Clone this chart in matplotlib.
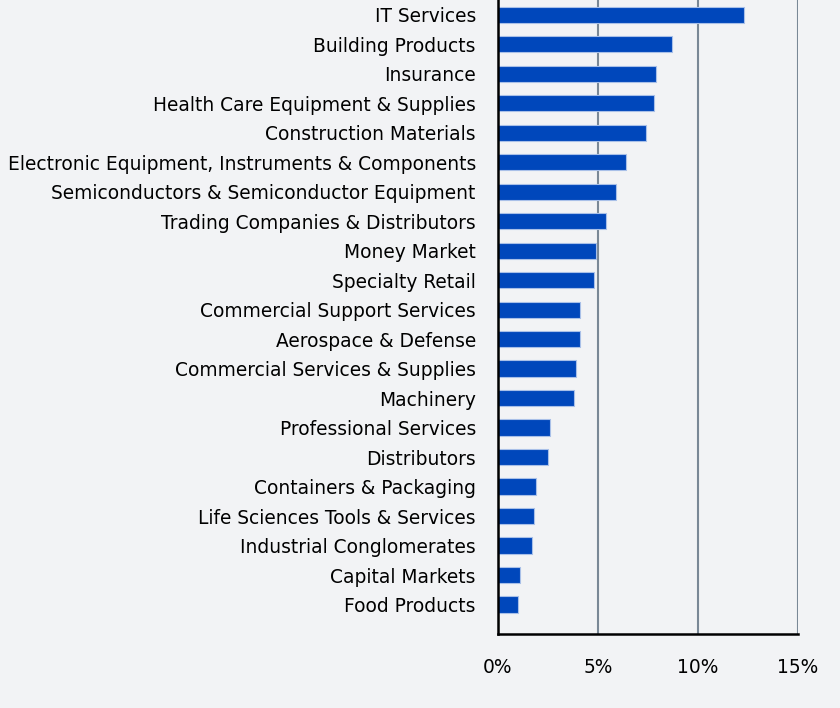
import numpy as np
import matplotlib.pyplot as plt

plt.rcParams['font.family'] = ['DejaVu Sans']

# industry weights (%)
industries = ["IT Services", "Building Products", "Insurance",
              "Health Care Equipment & Supplies", "Construction Materials",
              "Electronic Equipment, Instruments & Components",
              "Semiconductors & Semiconductor Equipment",
              "Trading Companies & Distributors", "Money Market",
              "Specialty Retail", "Commercial Support Services",
              "Aerospace & Defense", "Commercial Services & Supplies",
              "Machinery", "Professional Services", "Distributors",
              "Containers & Packaging", "Life Sciences Tools & Services",
              "Industrial Conglomerates", "Capital Markets", "Food Products"]
weights = [12.3, 8.7, 7.9, 7.8, 7.4, 6.4, 5.9, 5.4, 4.9, 4.8, 4.1, 4.1,
           3.9, 3.8, 2.6, 2.5, 1.9, 1.8, 1.7, 1.1, 1.0]
xticks = [0, 5, 10, 15]
xticklabels = ["0%", "5%", "10%", "15%"]

bg = "#F2F3F5"
fig = plt.figure(figsize=(8.4, 7.08), dpi=100, facecolor=bg)
ax = fig.add_axes([498/840, 1 - 634/708, 300/840, 634/708])
ax.set_facecolor(bg)

y = np.arange(len(industries))
ax.barh(y, weights, height=0.55, color="#0047BB", edgecolor="#A9C0E8",
        linewidth=0.8, zorder=3)

ax.set_xlim(0, 15)
ax.set_ylim(len(industries), -0.5)
ax.set_yticks(y)
ax.set_yticklabels(industries, fontsize=13.4)
ax.set_xticks(xticks)
ax.set_xticklabels(xticklabels, fontsize=13.4)
ax.tick_params(axis="y", length=0, pad=16)
ax.tick_params(axis="x", length=0, pad=17.5)

ax.grid(axis="x", color="#7A8896", linewidth=1.5, zorder=1)
for s in ["top", "right"]:
    ax.spines[s].set_visible(False)
for s in ["left", "bottom"]:
    ax.spines[s].set_color("black")
    ax.spines[s].set_linewidth(1.8)
    ax.spines[s].set_zorder(4)

fig.savefig("out.png", dpi=100, facecolor=bg)
